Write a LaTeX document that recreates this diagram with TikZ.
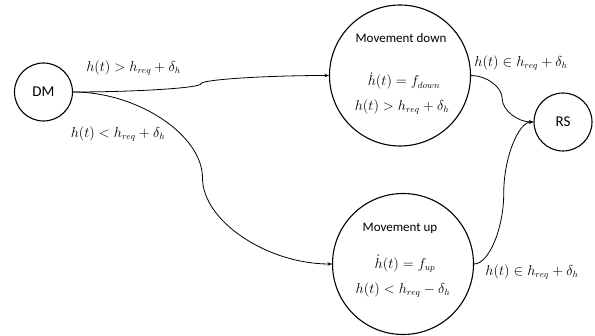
\documentclass[tikz,border=0pt]{standalone}
\usepackage{fontspec}
\setmainfont{Carlito}
\usetikzlibrary{arrows.meta,calc}
\tikzset{
  state/.style={draw=black,line width=1.1pt,circle,inner sep=0pt},
  smallstate/.style={state,minimum size=58pt,font=\fontsize{15}{18}\selectfont},
  bigstate/.style={state,minimum size=141pt},
  txt/.style={inner sep=0pt,font=\fontsize{13}{15}\selectfont},
  mlab/.style={inner sep=0pt,font=\fontsize{13.5}{16}\selectfont},
  conn/.style={draw=black,line width=0.8pt,-{Stealth[length=4.5pt,width=3.5pt]}}
}
\newcommand\officeconn[2]{%
  \draw[conn] let \p1=(#1), \p2=(#2) in (\p1)
    .. controls ({\x1+0.25*(\x2-\x1)},{\y1}) and ({0.5*(\x1+\x2)},{\y1+0.25*(\y2-\y1)})
    .. ({0.5*(\x1+\x2)},{0.5*(\y1+\y2)})
    .. controls ({0.5*(\x1+\x2)},{\y1+0.75*(\y2-\y1)}) and ({\x1+0.75*(\x2-\x1)},{\y2})
    .. (\p2);}
\begin{document}
\begin{tikzpicture}[x=1pt,y=-1pt]
\useasboundingbox (0,0) rectangle (595,336);
\node[smallstate] (dm) at (43.5,92) {DM};
\node[smallstate] (rs) at (563,122) {RS};
\node[bigstate] (down) at (400,75.5) {};
\node[bigstate] (up) at (403,264) {};
\node[txt] (dtitle) at (401,38) {Movement down};
\node[mlab] (deq) at (404,81) {$\dot h(t) = f_{down}$};
\node[mlab] (dcond) at (402,107) {$h(t) > h_{req} + \delta_h$};
\node[txt] (utitle) at (400,228) {Movement up};
\node[mlab] (ueq) at (405,264) {$\dot h(t) = f_{up}$};
\node[mlab] (ucond) at (403,290) {$h(t) < h_{req} - \delta_h$};
\node[mlab] (l1) at (133.5,68) {$h(t) > h_{req} + \delta_h$};
\node[mlab] (l2) at (118,134) {$h(t) < h_{req} + \delta_h$};
\node[mlab] (l3) at (521,63) {$h(t) \in h_{req} + \delta_h$};
\node[mlab] (l4) at (532,272) {$h(t) \in h_{req} + \delta_h$};
\officeconn{dm.east}{down.west}
\officeconn{dm.east}{up.west}
\officeconn{down.east}{rs.west}
\officeconn{up.east}{rs.west}
\end{tikzpicture}
\end{document}
